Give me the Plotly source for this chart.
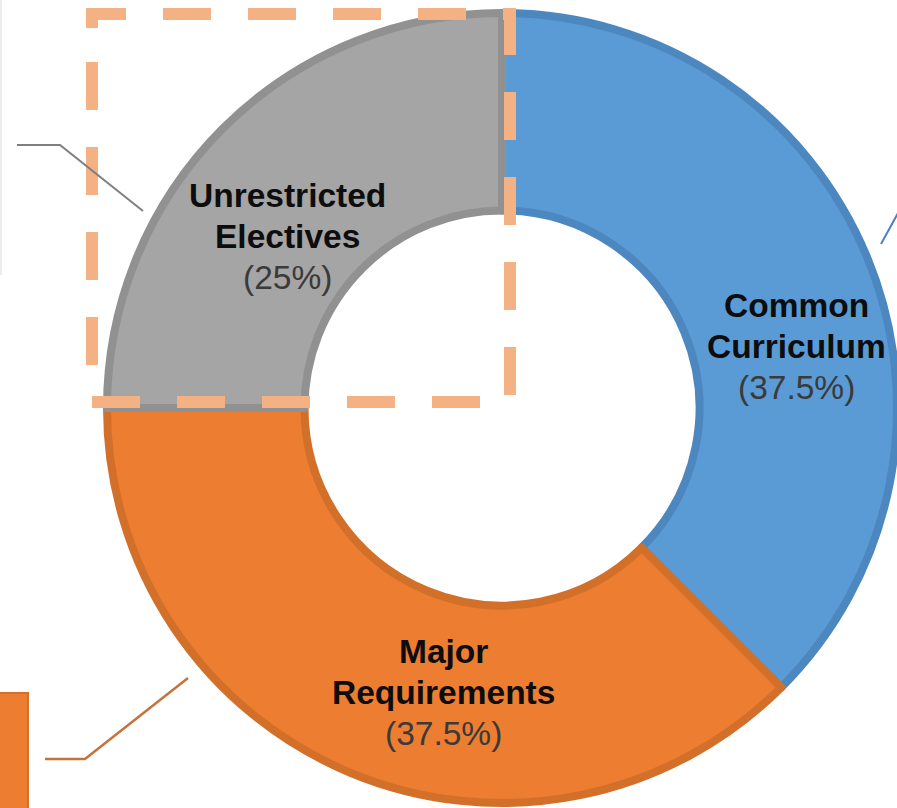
import plotly.graph_objects as go

# ---- data ----
labels = ["Common Curriculum", "Major Requirements", "Unrestricted Electives"]
values = [37.5, 37.5, 25]
pct_text = ["(37.5%)", "(37.5%)", "(25%)"]

fill_colors = ["#5b9bd5", "#ed7d31", "#a5a5a5"]
edge_colors = ["#4d87bf", "#d2702a", "#919191"]

W, H = 897, 808

fig = go.Figure()
fig.add_trace(go.Pie(
    labels=labels,
    values=values,
    textinfo="none",
    sort=False,
    direction="clockwise",
    rotation=0,
    hole=0.5,
    marker=dict(colors=fill_colors, line=dict(color=edge_colors, width=8)),
    domain=dict(x=[107 / W, 1.0], y=[(H - 804) / H, (H - 12) / H]),
    showlegend=False,
    hoverinfo="label+percent",
))

# invisible pixel-space axes for decorations
fig.update_xaxes(range=[0, W], visible=False, fixedrange=True)
fig.update_yaxes(range=[H, 0], visible=False, fixedrange=True)

# label text placed in each slice
label_pos = {  # pixel centre of each text block
    "Common Curriculum": (796, 346),
    "Major Requirements": (443, 692),
    "Unrestricted Electives": (287, 236),
}
annotations = []
for lab, pct in zip(labels, pct_text):
    cx, cy = label_pos[lab]
    words = lab.split(" ")
    lines = ["<b>" + words[0] + "</b>", "<b>" + " ".join(words[1:]) + "</b>",
             "<span style='color:#3a3a3a'>" + pct + "</span>"]
    for i, t in enumerate(lines):
        annotations.append(dict(
            x=cx, y=cy + (i - 1) * 41, xref="x", yref="y",
            text=t, showarrow=False, xanchor="center", yanchor="middle",
            font=dict(family="Liberation Sans, Arial, sans-serif", size=33.5, color="#0d0d0d"),
        ))

shapes = []
# dashed highlight rectangle (path starts on the left side so dashes wrap the corner)
shapes.append(dict(type="path", xref="x", yref="y",
                   path="M 92 28 L 92 14 L 510 14 L 510 402 L 92 402 Z",
                   line=dict(color="#f4b183", width=12, dash="48px,37px"), layer="above"))
# connector lines
shapes.append(dict(type="path", xref="x", yref="y", path="M 17 145 L 60 145 L 143 211",
                   line=dict(color="#7f7f7f", width=2)))
shapes.append(dict(type="path", xref="x", yref="y", path="M 45 759 L 85 759 L 188 678",
                   line=dict(color="#c5733c", width=2.5)))
shapes.append(dict(type="line", xref="x", yref="y", x0=881, y0=244, x1=898, y1=213,
                   line=dict(color="#4f81bd", width=2)))
# partial orange box at bottom-left
shapes.append(dict(type="rect", xref="x", yref="y", x0=-5, y0=693, x1=28, y1=815,
                   fillcolor="#ed7d31", line=dict(color="#d2702a", width=2)))
# faint left border
shapes.append(dict(type="line", xref="x", yref="y", x0=1, y0=0, x1=1, y1=275,
                   line=dict(color="#d9d9d9", width=1)))

fig.update_layout(
    width=W, height=H,
    margin=dict(l=0, r=0, t=0, b=0),
    paper_bgcolor="white", plot_bgcolor="white",
    shapes=shapes,
    annotations=annotations,
)

fig.write_html("out.html", config={"displayModeBar": False},
               post_script="document.body.style.margin='0';")
